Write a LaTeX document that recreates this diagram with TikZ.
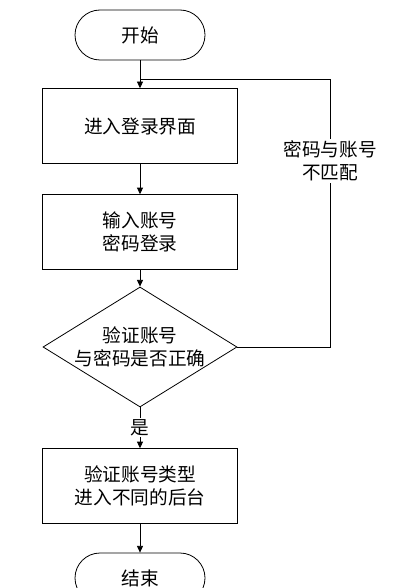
\documentclass[tikz,border=0pt]{standalone}
\usepackage{fontspec}
\setmainfont{Liberation Serif}
\newfontfamily\cjk{Noto Sans CJK SC}
\usetikzlibrary{shapes.geometric,arrows.meta}

\begin{document}
\begin{tikzpicture}[x=0.75pt,y=-0.75pt,line width=0.6pt,>={Triangle[length=5pt,width=4.5pt]},
  every node/.style={font=\cjk\fontsize{14}{17.5}\selectfont},
  terminal/.style={draw,rounded corners=18.75pt,minimum width=97.5pt,minimum height=37.5pt},
  stepbox/.style={draw,minimum width=146.25pt,minimum height=56pt,align=center},
  check/.style={draw,diamond,inner sep=0pt,minimum width=145.5pt,minimum height=90pt}]
   \useasboundingbox (0,0) rectangle (410,588);
   % 流程节点
   \node[terminal] (start) at (140,35) {开始};
   \node[stepbox] (login) at (140,126) {进入登录界面};
   \node[stepbox] (input) at (140,232) {输入账号\\密码登录};
   \node[check] (check) at (140,347) {};
   \node[align=center] (checktext) at (check) {验证账号\\与密码是否正确};
   \node[stepbox] (route) at (140,486) {验证账号类型\\进入不同的后台};
   \node[terminal] (stop) at (140,578) {结束};

   % 连线
   \draw[->] (start) -- (login);
   \draw[->] (login) -- (input);
   \draw[->] (input) -- (check);
   \draw[->] (check) -- node[fill=white,inner sep=1pt] (yes) {是} (route);
   \draw[->] (route) -- (stop);

   % 返回
   \coordinate (join) at (140,79);
   \coordinate (loopcorner) at (330,79);
   \draw (check.east) -| (loopcorner) -- (join);
   \node[fill=white,align=center,inner sep=1pt] (mismatch) at (330,161) {密码与账号\\不匹配};
\end{tikzpicture}
\end{document}
